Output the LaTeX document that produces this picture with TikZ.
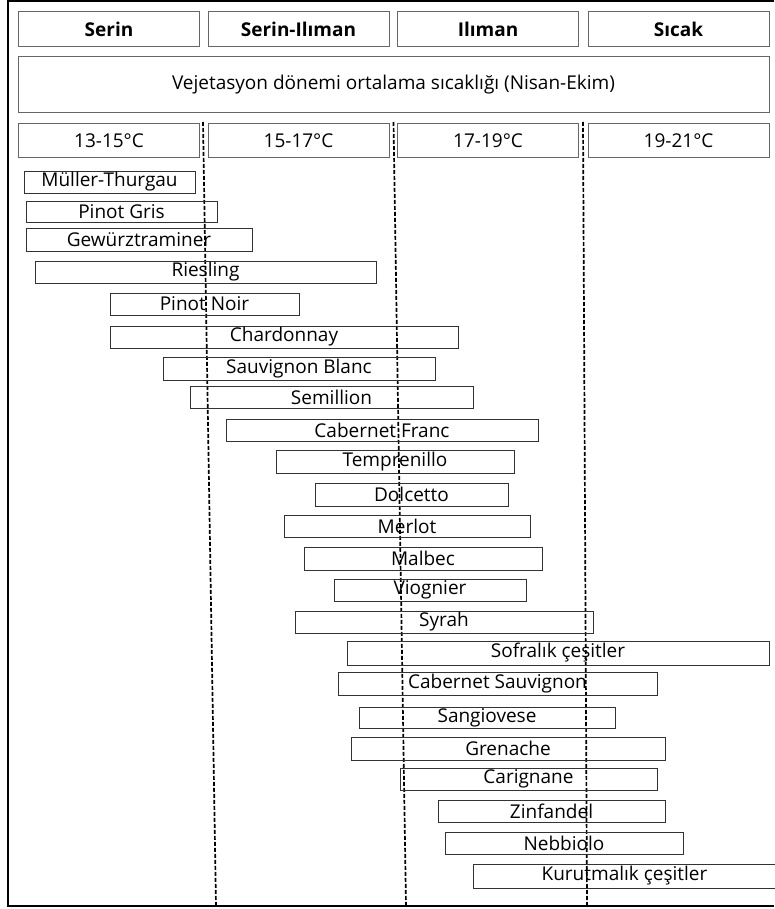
\documentclass[tikz,border=0pt]{standalone}
\usepackage{fontspec}
\setmainfont{Open Sans}
\usepackage{tikz}
\usetikzlibrary{calc}

\begin{document}
\begin{tikzpicture}[x=1pt,y=-1pt]
\fontsize{19}{22}\selectfont
\tikzstyle{head}=[draw=black!60, line width=1pt, inner sep=0pt, minimum width=181pt]
\tikzstyle{bar}=[draw=black!80, line width=0.9pt, inner sep=0pt]
\tikzstyle{sep}=[line width=1.7pt, dash pattern=on 4pt off 2pt]
\useasboundingbox (0,0) rectangle (774,909);
% frame
\draw[line width=2pt] (774,1) -- (8,1) -- (8,906) -- (774,906);
\foreach \name/\x/\lbl in {serin/109/Serin, serilm/298.5/Serin-Ilıman, ilm/488/Ilıman, sicak/678.5/Sıcak}
    \node[head, minimum height=35pt, font=\bfseries] (h-\name) at (\x,29.5) {\lbl};
\node[head, minimum width=751pt, minimum height=56pt] (veg) at (393.5,85) {Vejetasyon dönemi ortalama sıcaklığı (Nisan-Ekim)};
\foreach \name/\x/\lbl in {t1/109/13-15°C, t2/298.5/15-17°C, t3/488/17-19°C, t4/678.5/19-21°C}
    \node[head, minimum height=34pt] (\name) at (\x,141) {\lbl};
% dashed borders between the ranges
\coordinate (d1t) at (203,122); \coordinate (d1b) at (216,906);
\coordinate (d2t) at (393.5,122); \coordinate (d2b) at (406,906);
\coordinate (d3t) at (583,122); \coordinate (d3b) at (587,906);
\foreach \d in {1,2,3}
    \draw[sep] (d\d t) -- (d\d b);
% grape varieties
\foreach \lbl/\xa/\xb/\ya/\yb [count=\i] in {
    Müller-Thurgau/24/195/171/193,
    Pinot Gris/26/217/201/222,
    Gewürztraminer/26/252/228/251,
    Riesling/35/376/261/283,
    Pinot Noir/110/299/293/315,
    Chardonnay/110/458/326/348,
    Sauvignon Blanc/163/435/357/380,
    Semillion/190/473/386/408,
    Cabernet Franc/226/538/419/441,
    Temprenillo/276/514/450/473,
    Dolcetto/315/508/483/506,
    Merlot/284/530/515/537,
    Malbec/304/542/547/570,
    Viognier/334/526/579/601,
    Syrah/295/593/611/633,
    Sofralık çeşitler/347/769/641/665,
    Cabernet Sauvignon/338/657/672/695,
    Sangiovese/359/615/707/728,
    Grenache/351/665/737/760,
    Carignane/400/657/768/790,
    Zinfandel/438/665/800/822,
    Nebbiolo/445/683/832/854,
    Kurutmalık çeşitler/473/776/864/888}
    \node[bar, minimum width={(\xb-\xa)*1pt}, minimum height={(\yb-\ya)*1pt}] (v\i) at ({(\xa+\xb)/2},{(\ya+\yb)/2}) {\lbl};
\end{tikzpicture}
\end{document}
